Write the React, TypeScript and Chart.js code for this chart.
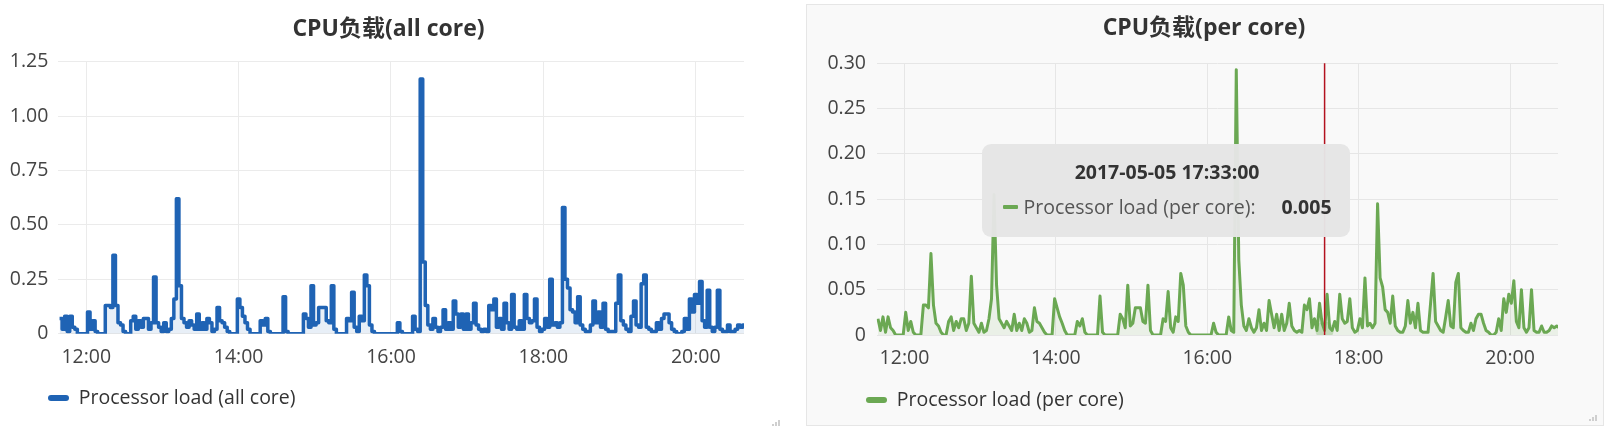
import React, { useEffect, useRef } from 'react';
import { Chart, registerables } from 'chart.js';

Chart.register(...registerables);

const FONT = '"Open Sans", "Noto Sans CJK SC", sans-serif';

// sampling of the series (minutes since midnight)
const DATE = '2017-05-05';
const START_MIN = 11 * 60 + 39;
const STEP_MIN = 2;
const X_MIN = 11 * 60 + 38;
const X_MAX = 20 * 60 + 38;
const HOUR_TICKS = [720, 840, 960, 1080, 1200];
const ALL_CORE_TICKS = [0, 0.25, 0.5, 0.75, 1, 1.25];
const PER_CORE_TICKS = [0, 0.05, 0.1, 0.15, 0.2, 0.25, 0.3];
const HOVER_INDEX = 177; // 17:33

const allCore = [
  0.07, 0.02, 0.08, 0.01, 0.08, 0.03, 0.02, 0, 0, 0,
  0, 0.10, 0.02, 0.06, 0.01, 0, 0, 0, 0.13, 0.13,
  0.12, 0.36, 0.13, 0.05, 0.04, 0.01, 0, 0, 0.06, 0.08,
  0.02, 0.06, 0.03, 0.07, 0.07, 0.02, 0.05, 0.26, 0.05, 0.03,
  0.01, 0.05, 0.01, 0.02, 0.07, 0.16, 0.62, 0.22, 0.07, 0.05,
  0.03, 0.06, 0.04, 0.02, 0.09, 0.02, 0.05, 0.02, 0.07, 0.05,
  0.01, 0.02, 0.12, 0.06, 0.05, 0.03, 0.01, 0, 0, 0,
  0.16, 0.12, 0.08, 0.05, 0.02, 0, 0, 0, 0, 0.06,
  0.04, 0.07, 0.01, 0, 0, 0, 0, 0, 0.17, 0.01,
  0, 0, 0, 0, 0, 0, 0.09, 0.07, 0.03, 0.22,
  0.04, 0.05, 0.12, 0.12, 0.12, 0.06, 0.05, 0.22, 0.02, 0,
  0, 0, 0, 0.07, 0.06, 0.19, 0.03, 0.01, 0.08, 0.06,
  0.27, 0.22, 0.04, 0.01, 0, 0, 0, 0, 0, 0,
  0, 0, 0, 0.05, 0.01, 0, 0, 0, 0, 0.08,
  0.02, 0.01, 1.17, 0.33, 0.13, 0.04, 0.02, 0.07, 0.03, 0.01,
  0.03, 0.11, 0.02, 0.05, 0.02, 0.15, 0.09, 0.03, 0.09, 0.02,
  0.09, 0.02, 0.05, 0.14, 0.04, 0.02, 0.01, 0.02, 0.01, 0.13,
  0.11, 0.16, 0.03, 0.07, 0.02, 0.14, 0.05, 0.02, 0.18, 0.03,
  0.02, 0.06, 0.02, 0.18, 0.07, 0.05, 0.06, 0.16, 0.03, 0.01,
  0.02, 0.07, 0.03, 0.25, 0.04, 0.05, 0.03, 0.05, 0.58, 0.25,
  0.21, 0.11, 0.10, 0.05, 0.17, 0.04, 0.02, 0.01, 0.01, 0.04,
  0.15, 0.05, 0.10, 0.03, 0.14, 0.02, 0.01, 0.01, 0.01, 0.14,
  0.27, 0.06, 0.04, 0.02, 0.01, 0.08, 0.15, 0.04, 0.03, 0.23,
  0.27, 0.03, 0.02, 0.01, 0.01, 0.05, 0.02, 0.07, 0.09, 0.09,
  0.05, 0.02, 0.01, 0, 0, 0.01, 0.07, 0.02, 0.16, 0.10,
  0.18, 0.14, 0.24, 0.06, 0.03, 0.20, 0.03, 0.01, 0.03, 0.20,
  0.02, 0.01, 0.01, 0.04, 0.01, 0.01, 0.02, 0.04, 0.03, 0.04,
  0.03,
];

const perCore = [
  0.018, 0.005, 0.02, 0.003, 0.02, 0.008, 0.005, 0, 0, 0,
  0, 0.025, 0.005, 0.015, 0.003, 0, 0, 0, 0.033, 0.033,
  0.03, 0.09, 0.033, 0.013, 0.01, 0.003, 0, 0, 0.015, 0.02,
  0.005, 0.015, 0.008, 0.018, 0.018, 0.005, 0.013, 0.065, 0.013, 0.008,
  0.003, 0.013, 0.003, 0.005, 0.018, 0.04, 0.155, 0.055, 0.018, 0.013,
  0.008, 0.015, 0.01, 0.005, 0.023, 0.005, 0.013, 0.005, 0.018, 0.013,
  0.003, 0.005, 0.03, 0.015, 0.013, 0.008, 0.003, 0, 0, 0,
  0.04, 0.03, 0.02, 0.013, 0.005, 0, 0, 0, 0, 0.015,
  0.01, 0.018, 0.003, 0, 0, 0, 0, 0, 0.043, 0.003,
  0, 0, 0, 0, 0, 0, 0.023, 0.018, 0.008, 0.055,
  0.01, 0.013, 0.03, 0.03, 0.03, 0.015, 0.013, 0.055, 0.005, 0,
  0, 0, 0, 0.018, 0.015, 0.048, 0.008, 0.003, 0.02, 0.015,
  0.068, 0.055, 0.01, 0.003, 0, 0, 0, 0, 0, 0,
  0, 0, 0, 0.013, 0.003, 0, 0, 0, 0, 0.02,
  0.005, 0.003, 0.293, 0.083, 0.033, 0.01, 0.005, 0.018, 0.008, 0.003,
  0.008, 0.028, 0.005, 0.013, 0.005, 0.038, 0.023, 0.008, 0.023, 0.005,
  0.023, 0.005, 0.013, 0.035, 0.01, 0.005, 0.003, 0.005, 0.003, 0.033,
  0.028, 0.04, 0.008, 0.018, 0.005, 0.035, 0.013, 0.005, 0.045, 0.008,
  0.005, 0.015, 0.005, 0.045, 0.018, 0.013, 0.015, 0.04, 0.008, 0.003,
  0.005, 0.018, 0.008, 0.063, 0.01, 0.013, 0.008, 0.013, 0.145, 0.063,
  0.053, 0.028, 0.025, 0.013, 0.043, 0.01, 0.005, 0.003, 0.003, 0.01,
  0.038, 0.013, 0.025, 0.008, 0.035, 0.005, 0.003, 0.003, 0.003, 0.035,
  0.068, 0.015, 0.01, 0.005, 0.003, 0.02, 0.038, 0.01, 0.008, 0.058,
  0.068, 0.008, 0.005, 0.003, 0.003, 0.013, 0.005, 0.018, 0.023, 0.023,
  0.013, 0.005, 0.003, 0, 0, 0.003, 0.018, 0.005, 0.04, 0.025,
  0.045, 0.035, 0.06, 0.015, 0.008, 0.05, 0.008, 0.003, 0.008, 0.05,
  0.005, 0.003, 0.003, 0.01, 0.003, 0.003, 0.005, 0.01, 0.008, 0.01,
  0.008,
];

const times = allCore.map((_, i) => START_MIN + i * STEP_MIN);

const clock = (m: number) => `${Math.floor(m / 60)}:${String(Math.round(m % 60)).padStart(2, '0')}`;
const fmtLoad = (v: number) => (v === 0 ? '0' : v.toFixed(2));

interface Spec {
  title: string;
  label: string;
  values: number[];
  yTicks: number[];
  color: string;
  fill: string;
  lineWidth: number;
  stepped: boolean;
  grid: string;
  pad: { top: number; right: number; bottom: number; left: number };
  titlePad: { top: number; bottom: number };
  yWidth: number;
  yPad: number;
  xPad: number;
  legendPad: number;
  legendX: number;
  titleX: number;
}

// red hover line through the active point
const crosshair = {
  id: 'crosshair',
  afterDatasetsDraw(chart: any) {
    const act = chart.getActiveElements();
    if (!act.length) return;
    const x = act[0].element.x;
    const { top, bottom } = chart.chartArea;
    const ctx = chart.ctx;
    ctx.save();
    ctx.strokeStyle = '#b3121f';
    ctx.lineWidth = 1.5;
    ctx.beginPath();
    ctx.moveTo(x, top);
    ctx.lineTo(x, bottom);
    ctx.stroke();
    ctx.restore();
  },
};

// legend starts a bit left of the plot, title is centred on the panel
const placeBoxes = (legendX: number, titleX: number) => ({
  id: 'placeBoxes',
  afterLayout(chart: any) {
    const lg = chart.legend;
    if (lg) {
      const w = lg.width;
      lg.left = legendX - lg.options.labels.padding;
      lg.right = lg.left + w;
    }
    const tb = chart.titleBlock;
    if (tb) {
      const half = (tb.right - tb.left) / 2;
      tb.left = titleX - half;
      tb.right = titleX + half;
    }
  },
});

function buildChart(canvas: HTMLCanvasElement, s: Spec, external?: (ctx: any) => void) {
  const boxes = placeBoxes(s.legendX, s.titleX);
  return new Chart(canvas, {
    type: 'line',
    data: {
      datasets: [
        {
          label: s.label,
          data: s.values.map((y, i) => ({ x: times[i], y })),
          borderColor: s.color,
          backgroundColor: s.fill,
          borderWidth: s.lineWidth,
          fill: 'origin',
          stepped: s.stepped,
          tension: 0,
          pointRadius: 0,
          pointHoverRadius: 9,
          pointHoverBorderWidth: 0,
          pointHoverBackgroundColor: 'rgba(107,168,83,0.3)',
          borderJoinStyle: 'round',
        },
      ],
    },
    options: {
      responsive: false,
      animation: false,
      events: [],
      layout: { padding: s.pad },
      interaction: { mode: 'index', intersect: false },
      plugins: {
        title: {
          display: true,
          text: s.title,
          color: '#333',
          font: { family: FONT, size: 23, weight: 'bold' },
          padding: s.titlePad,
        },
        legend: {
          position: 'bottom',
          align: 'start',
          labels: {
            boxWidth: 21,
            boxHeight: 6,
            useBorderRadius: true,
            borderRadius: 3,
            padding: s.legendPad,
            color: '#333',
            font: { family: FONT, size: 19.5 },
            generateLabels: (chart: any) =>
              Chart.defaults.plugins.legend.labels
                .generateLabels(chart)
                .map((item: any) => ({ ...item, fillStyle: item.strokeStyle, lineWidth: 0 })),
          },
        },
        tooltip: external ? { enabled: false, external } : { enabled: false },
      },
      scales: {
        x: {
          type: 'linear',
          min: X_MIN,
          max: X_MAX,
          afterBuildTicks: (scale: any) => {
            scale.ticks = HOUR_TICKS.map((value) => ({ value }));
          },
          ticks: {
            padding: s.xPad,
            color: '#444',
            maxRotation: 0,
            font: { family: FONT, size: 19.5 },
            callback: (v: any) => clock(Number(v)),
          },
          grid: { color: s.grid, lineWidth: 1, drawTicks: false },
          border: { display: false },
        },
        y: {
          min: 0,
          max: s.yTicks[s.yTicks.length - 1],
          afterBuildTicks: (scale: any) => {
            scale.ticks = s.yTicks.map((value) => ({ value }));
          },
          afterFit: (scale: any) => {
            scale.width = s.yWidth;
          },
          ticks: {
            padding: s.yPad,
            color: '#444',
            font: { family: FONT, size: 19.5 },
            callback: (v: any) => fmtLoad(Number(v)),
          },
          grid: { color: s.grid, lineWidth: 1, drawTicks: false },
          border: { display: false },
        },
      },
    },
    plugins: external ? [boxes, crosshair] : [boxes],
  } as any);
}

const Bars: React.FC<{ right: number; bottom: number }> = ({ right, bottom }) => (
  <div style={{ position: 'absolute', right, bottom, display: 'flex', alignItems: 'flex-end', gap: 1 }}>
    {[2, 4, 6].map((h) => (
      <div key={h} style={{ width: 2, height: h, background: '#cfcfcf' }} />
    ))}
  </div>
);

export default function App() {
  const leftRef = useRef<HTMLCanvasElement>(null);
  const rightRef = useRef<HTMLCanvasElement>(null);
  const tipRef = useRef<HTMLDivElement>(null);
  const tipTitle = useRef<HTMLDivElement>(null);
  const tipLabel = useRef<HTMLSpanElement>(null);
  const tipValue = useRef<HTMLSpanElement>(null);
  const tipSwatch = useRef<HTMLSpanElement>(null);

  useEffect(() => {
    if (!leftRef.current || !rightRef.current) return;

    const left = buildChart(leftRef.current, {
      title: 'CPU负载(all core)',
      label: 'Processor load (all core)',
      values: allCore,
      yTicks: ALL_CORE_TICKS,
      color: '#1f63b4',
      fill: 'rgba(31,99,180,0.1)',
      lineWidth: 3.5,
      stepped: true,
      grid: '#ebebeb',
      pad: { top: 0, right: 33, bottom: 14.2, left: 6 },
      titlePad: { top: 15.2, bottom: 18.9 },
      yWidth: 52.3,
      yPad: 10,
      xPad: 11.6,
      legendPad: 8,
      legendX: 48,
      titleX: 388.5,
    });

    const external = ({ chart, tooltip }: any) => {
      const el = tipRef.current;
      if (!el) return;
      const pts = tooltip.dataPoints || [];
      if (!tooltip.getActiveElements().length || !pts.length) {
        el.style.display = 'none';
        return;
      }
      const dp = pts[0];
      tipTitle.current!.textContent = `${DATE} ${clock(dp.parsed.x).padStart(5, '0')}:00`;
      tipLabel.current!.textContent = `${dp.dataset.label}:`;
      tipValue.current!.textContent = dp.parsed.y.toFixed(3);
      tipSwatch.current!.style.background = dp.dataset.borderColor;
      el.style.display = 'flex';
      el.style.left = `${tooltip.caretX - 343}px`;
      el.style.top = `${chart.chartArea.top + 81}px`;
    };

    const right = buildChart(
      rightRef.current,
      {
        title: 'CPU负载(per core)',
        label: 'Processor load (per core)',
        values: perCore,
        yTicks: PER_CORE_TICKS,
        color: '#6ba853',
        fill: 'rgba(107,168,83,0.1)',
        lineWidth: 3,
        stepped: false,
        grid: '#e6e6e6',
        pad: { top: 0, right: 45, bottom: 5.25, left: 14 },
        titlePad: { top: 9.7, bottom: 21 },
        yWidth: 55.7,
        yPad: 10.7,
        xPad: 11.8,
        legendPad: 8.25,
        legendX: 59,
        titleX: 397,
      },
      external,
    );

    const active = [{ datasetIndex: 0, index: HOVER_INDEX }];
    right.setActiveElements(active);
    right.tooltip?.setActiveElements(active, { x: 0, y: 0 });
    right.update();

    return () => {
      left.destroy();
      right.destroy();
    };
  }, []);

  return (
    <div
      style={{
        position: 'fixed',
        left: 0,
        top: 0,
        width: 1608,
        height: 432,
        background: '#fff',
        fontFamily: FONT,
        overflow: 'hidden',
      }}
    >
      <div style={{ position: 'absolute', left: 0, top: 0, width: 790, height: 432 }}>
        <canvas ref={leftRef} width={777} height={432} style={{ display: 'block' }} />
        <Bars right={10} bottom={6} />
      </div>
      <div
        style={{
          position: 'absolute',
          left: 806,
          top: 4,
          width: 796,
          height: 420,
          border: '1px solid #e6e6e6',
          background: '#f9f9f9',
        }}
      >
        <canvas ref={rightRef} width={796} height={420} style={{ display: 'block' }} />
        <Bars right={6} bottom={4} />
        <div
          ref={tipRef}
          style={{
            position: 'absolute',
            display: 'none',
            flexDirection: 'column',
            boxSizing: 'border-box',
            width: 368,
            height: 93,
            padding: '16px 18px 0 21px',
            borderRadius: 9,
            background: 'rgba(229,229,229,0.97)',
            color: '#333',
            fontSize: 19.5,
            lineHeight: '23px',
          }}
        >
          <div ref={tipTitle} style={{ textAlign: 'center', fontWeight: 700 }} />
          <div style={{ display: 'flex', alignItems: 'center', marginTop: 12 }}>
            <span ref={tipSwatch} style={{ width: 15, height: 4, marginRight: 6, borderRadius: 1 }} />
            <span ref={tipLabel} style={{ color: '#555' }} />
            <span ref={tipValue} style={{ marginLeft: 'auto', fontWeight: 700 }} />
          </div>
        </div>
      </div>
    </div>
  );
}
